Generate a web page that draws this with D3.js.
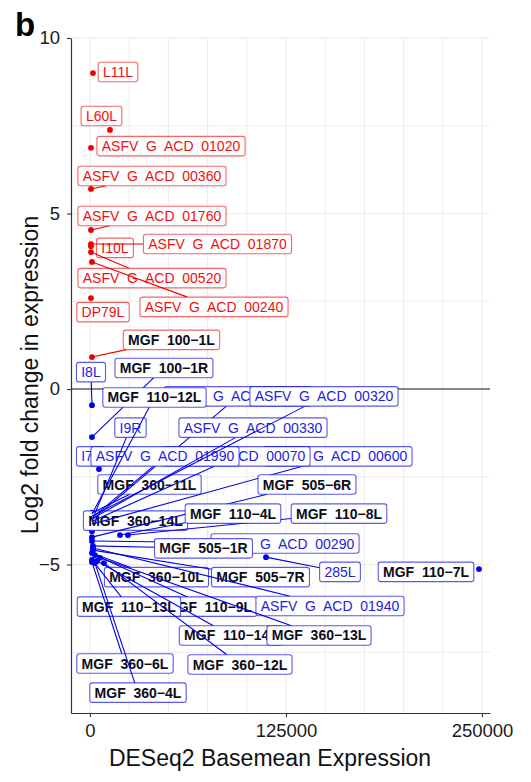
<!DOCTYPE html>
<html>
<head>
<meta charset="utf-8">
<script src="https://cdn.jsdelivr.net/npm/d3@7"></script>
<style>
  body { margin: 0; background: #fff; }
  text { font-family: "Liberation Sans", Arial, sans-serif; }
</style>
</head>
<body>
<div class="canva"></div>
<script>
const width = 531
const height = 782

// genes, in drawing order (ggrepel draws label after label)
const genes = [
  "L11L", "L60L", "ASFV  G  ACD  01020", "ASFV  G  ACD  00360", "ASFV  G  ACD  01760",
  "I10L", "ASFV  G  ACD  01870", "ASFV  G  ACD  00520", "ASFV  G  ACD  00240", "DP79L",
  "MGF  100−1L",
  "I8L", "MGF  100−1R", "MGF  360−14L", "MGF  360−11L", "ASFV  G  ACD  00300",
  "ASFV  G  ACD  00600", "ASFV  G  ACD  00070", "I7L", "ASFV  G  ACD  01990", "ASFV  G  ACD  00330",
  "I9R", "ASFV  G  ACD  00320", "MGF  110−12L", "MGF  505−6R", "MGF  110−8L",
  "MGF  110−4L", "ASFV  G  ACD  00290", "MGF  505−1R", "285L", "MGF  110−7L",
  "MGF  360−10L", "MGF  505−7R", "MGF  110−9L", "MGF  110−13L", "ASFV  G  ACD  01940",
  "MGF  110−14L", "MGF  360−13L", "MGF  360−6L", "MGF  360−12L", "MGF  360−4L"
]
const direction = [
  "up", "up", "up", "up", "up", "up", "up", "up", "up", "up", "up",
  "down", "down", "down", "down", "down", "down", "down", "down", "down", "down",
  "down", "down", "down", "down", "down", "down", "down", "down", "down", "down",
  "down", "down", "down", "down", "down", "down", "down", "down", "down", "down"
]
// DESeq2 basemean of each gene
const baseMean = [
  1900, 12750, 640, 640, 640, 640, 640, 640, 1280, 640,
  1280,
  1280, 1280, 1280, 1280, 1280, 1280, 1900, 5740, 1900, 1280,
  1900, 1280, 1280, 1280, 24230, 19130, 1280, 1900, 112250, 248090,
  1280, 1900, 3190, 1280, 1900, 4460, 6380, 1280, 8930, 3190
]
// log2 fold change of each gene
const log2fc = [
  9.00, 7.38, 6.87, 5.70, 4.53, 4.07, 4.13, 3.90, 3.62, 2.59,
  0.91,
  -0.46, -1.37, -4.05, -3.53, -3.73, -3.85, -3.76, -2.28, -3.65, -3.70,
  -3.68, -3.62, -3.56, -4.22, -4.16, -4.16, -4.33, -4.47, -4.79, -5.13,
  -4.67, -4.59, -4.73, -4.87, -4.53, -4.90, -4.81, -4.93, -4.96, -4.96
]
// where the repelled labels ended up (label centre, in data units)
const labelBaseMean = [
  17860, 7330, 51660, 39540, 39540, 15940, 81320, 39540, 79080, 8290,
  51980,
  640, 47190, 29020, 37950, 94390, 158160, 93110, 640, 47830, 103960,
  25830, 149240, 41140, 138390, 158800, 91200, 124360, 72390, 159440, 214290,
  42410, 108740, 75890, 24870, 153060, 89930, 146050, 22320, 95660, 30610
]
const labelLog2fc = [
  9.03, 7.78, 6.92, 6.07, 4.93, 4.02, 4.13, 3.16, 2.34, 2.19,
  1.40,
  0.48, 0.60, -3.75, -2.72, -0.21, -1.92, -1.92, -1.92, -1.92, -1.10,
  -1.10, -0.21, -0.24, -2.72, -3.55, -3.55, -4.40, -4.54, -5.21, -5.21,
  -5.36, -5.36, -6.20, -6.20, -6.18, -7.02, -7.02, -7.82, -7.85, -8.65
]
const xTicks = [0, 125000, 250000]
const yTicks = [-5, 0, 5, 10]

const colors = { up: "#ee0000", down: "#0000ee" }
const borders = { up: "rgba(238,0,0,0.6)", down: "rgba(0,0,230,0.65)" }
const textColors = { up: "#ee1010", down: "#2222dd" }

const margin = { left: 71, right: 41, top: 38, bottom: 69 }

const svg = d3.select(".canva").append("svg").attr("width", width).attr("height", height)

const x = d3.scaleLinear().domain([-12100, 255100]).range([margin.left, width - margin.right])
const y = d3.scaleLinear().domain([-9.23, 10]).range([height - margin.bottom, margin.top])

//grid
const grid = svg.append("g")
grid.selectAll("line.vx")
  .data(d3.range(0, 250001, 25000))
  .enter().append("line")
  .attr("x1", d => x(d)).attr("x2", d => x(d))
  .attr("y1", y.range()[0]).attr("y2", y.range()[1])
  .attr("stroke", "#ebebeb").attr("stroke-width", 1)
grid.selectAll("line.hy")
  .data(d3.range(-7.5, 10.01, 2.5))
  .enter().append("line")
  .attr("x1", x.range()[0]).attr("x2", x.range()[1])
  .attr("y1", d => y(d)).attr("y2", d => y(d))
  .attr("stroke", "#ebebeb").attr("stroke-width", 1)

//zero line
svg.append("line")
  .attr("x1", x.range()[0]).attr("x2", x.range()[1])
  .attr("y1", y(0)).attr("y2", y(0))
  .attr("stroke", "#1a1a1a").attr("stroke-width", 1.2)

//axes
const xAxis = svg.append("g")
  .attr("transform", `translate(0,${y.range()[0]})`)
  .call(d3.axisBottom(x).tickValues(xTicks).tickFormat(d3.format("d")).tickSize(4).tickPadding(7).tickSizeOuter(0))
const yAxis = svg.append("g")
  .attr("transform", `translate(${x.range()[0]},0)`)
  .call(d3.axisLeft(y).tickValues(yTicks).tickSize(4).tickPadding(7).tickSizeOuter(0))
for (const ax of [xAxis, yAxis]) {
  ax.select(".domain").attr("stroke", "#333").attr("stroke-width", 1.2)
  ax.selectAll(".tick line").attr("stroke", "#333").attr("stroke-width", 1.1)
  ax.selectAll(".tick text").attr("fill", "#1a1a1a").style("font-size", "18.5px")
    .style("font-family", "'Liberation Sans', Arial, sans-serif")
}

//titles
svg.append("text")
  .attr("x", 270).attr("y", 766)
  .attr("text-anchor", "middle")
  .style("font-size", "23px").attr("fill", "#111")
  .text("DESeq2 Basemean Expression")
svg.append("text")
  .attr("transform", `translate(38,375) rotate(-90)`)
  .attr("text-anchor", "middle")
  .style("font-size", "23px").attr("fill", "#111")
  .text("Log2 fold change in expression")
svg.append("text")
  .attr("x", 15).attr("y", 36)
  .style("font-size", "33px").style("font-weight", "bold")
  .text("b")

const nodes = genes.map((g, i) => ({
  gene: g,
  dir: direction[i],
  px: x(baseMean[i]),
  py: y(log2fc[i]),
  cx: x(labelBaseMean[i]),
  cy: y(labelLog2fc[i]),
  bold: g.startsWith("MGF")
}))

//points
svg.append("g").selectAll("circle")
  .data(nodes)
  .enter().append("circle")
  .attr("cx", d => d.px).attr("cy", d => d.py)
  .attr("r", 2.9)
  .attr("fill", d => colors[d.dir])

//labels, one after the other
const labels = svg.append("g")
nodes.forEach(d => {
  const g = labels.append("g")
  const seg = g.append("line")
  const box = g.append("rect")
  const t = g.append("text")
    .attr("x", d.cx).attr("y", d.cy)
    .attr("dy", "0.36em")
    .attr("text-anchor", "middle")
    .style("font-size", "14px")
    .style("white-space", "pre")
    .style("font-weight", d.bold ? "bold" : "normal")
    .attr("fill", d.bold ? "#0d0d1a" : textColors[d.dir])
    .text(d.gene)
  const w = t.node().getComputedTextLength() + 9.6
  const h = 19.5
  box.attr("x", d.cx - w / 2).attr("y", d.cy - h / 2)
    .attr("width", w).attr("height", h)
    .attr("rx", 2.5)
    .attr("fill", "#fff")
    .attr("stroke", borders[d.dir]).attr("stroke-width", 1.1)
  // segment from the point to the box edge
  const dx = d.cx - d.px
  const dy = d.cy - d.py
  const s = Math.min(dx === 0 ? Infinity : (w / 2) / Math.abs(dx), dy === 0 ? Infinity : (h / 2) / Math.abs(dy))
  if (s < 1) {
    const ex = d.cx - dx * s
    const ey = d.cy - dy * s
    if (Math.hypot(ex - d.px, ey - d.py) > 7) {
      seg.attr("x1", d.px).attr("y1", d.py).attr("x2", ex).attr("y2", ey)
        .attr("stroke", colors[d.dir]).attr("stroke-width", 1.1)
    }
  }
})
</script>
</body>
</html>
